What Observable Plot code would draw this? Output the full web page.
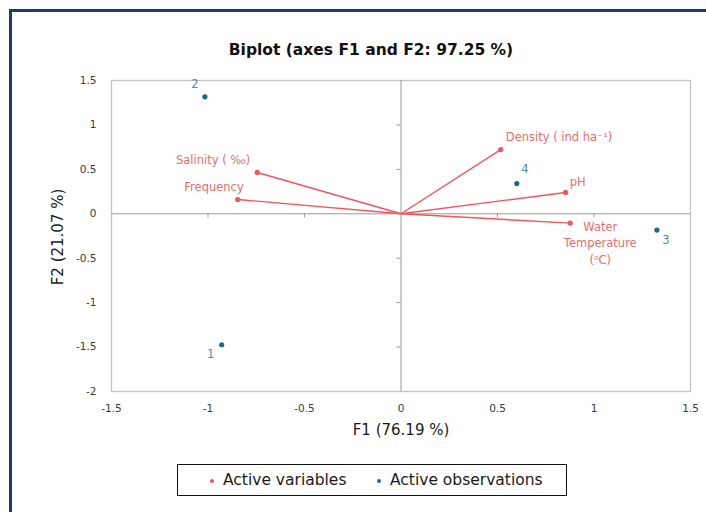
<!DOCTYPE html>
<html><head><meta charset="utf-8">
<script src="https://cdn.jsdelivr.net/npm/d3@7"></script>
<script src="https://cdn.jsdelivr.net/npm/@observablehq/plot@0.6"></script>
<style>
body{margin:0;background:#fff;}
#chart{position:relative;width:706px;height:512px;overflow:hidden;background:#fff;}
#outer{position:absolute;left:9px;top:9px;width:800px;height:600px;border-left:3px solid #22396a;border-top:3px solid #22396a;}
#legend{position:absolute;left:177px;top:464px;width:390px;height:32px;border:1px solid #111;box-sizing:border-box;font-family:"DejaVu Sans";font-size:15.5px;color:#1a1a1a;}
#legend .dot{position:absolute;width:4px;height:4px;border-radius:50%;top:14px;}
#legend .lab{position:absolute;top:6px;line-height:18px;white-space:nowrap;}
#ylab{position:absolute;left:58px;top:237px;transform:translate(-50%,-50%) rotate(-90deg);font-family:"DejaVu Sans";font-size:15px;color:#1a1a1a;white-space:nowrap;line-height:18px;}
</style>
</head><body><div id="chart"><div id="outer"></div></div>
<script>
// ---- data ----
const varNames = ["Salinity ( ‰)", "Frequency", "Density ( ind ha⁻¹)", "pH", "Water\nTemperature\n(⁰C)"];
const varF1 = [-0.745, -0.846, 0.517, 0.853, 0.877];
const varF2 = [0.465, 0.161, 0.723, 0.240, -0.105];
const obsNames = ["1", "2", "3", "4"];
const obsF1 = [-0.929, -1.016, 1.326, 0.600];
const obsF2 = [-1.474, 1.316, -0.183, 0.340];
const xTicks = [-1.5, -1, -0.5, 0, 0.5, 1, 1.5];
const yTicks = [-2, -1.5, -1, -0.5, 0, 0.5, 1, 1.5];
const legendLabels = ["Active variables", "Active observations"];
const titleText = "Biplot (axes F1 and F2: 97.25 %)";
const xLabel = "F1 (76.19 %)";
const yLabel = "F2 (21.07 %)";

// ---- styling / label placement ----
const RED = "#f4545a", RED_TXT = "#f06a6a", BLUE = "#1f6788", BLUE_TXT = "#4a8bb5";
const varLabelPos = [
  {anchor: "end", dx: -7, dy: -14},
  {anchor: "end", dx: 6, dy: -14},
  {anchor: "start", dx: 5, dy: -14},
  {anchor: "start", dx: 4, dy: -12},
  {anchor: "middle", dx: 30, dy: 19}
];
const obsLabelPos = [
  {dx: -11, dy: 10}, {dx: -10, dy: -13}, {dx: 9, dy: 10}, {dx: 8, dy: -14}
];

const vars = varNames.map((name, i) => ({name, f1: varF1[i], f2: varF2[i]}));
const obs = obsNames.map((name, i) => ({name, f1: obsF1[i], f2: obsF2[i]}));

const chart = Plot.plot({
  width: 706, height: 512,
  marginLeft: 111, marginRight: 16, marginTop: 80, marginBottom: 121,
  x: {domain: [-1.5, 1.5]},
  y: {domain: [-2, 1.5]},
  style: {fontFamily: "DejaVu Sans", fontSize: "11px", background: "transparent", overflow: "visible"},
  marks: [
    Plot.frame({stroke: "#c4c4c4", strokeWidth: 1.3}),
    Plot.ruleX([0], {stroke: "#9a9a9a"}),
    Plot.ruleY([0], {stroke: "#9a9a9a"}),
    Plot.ruleY(yTicks.filter(d => d !== 0 && d > -2 && d < 1.5), {y: d => d, x1: -0.022, x2: 0, stroke: "#9a9a9a"}),
    Plot.ruleX(xTicks.filter(d => d !== 0 && Math.abs(d) < 1.5), {x: d => d, y1: 0, y2: -0.045, stroke: "#9a9a9a"}),
    Plot.axisX({ticks: xTicks, tickSize: 0, tickPadding: 13, tickFormat: d => String(d), label: null, fontSize: 10.5, fill: "#3a3a3a"}),
    Plot.axisY({ticks: yTicks, tickSize: 0, tickPadding: 15, tickFormat: d => String(d), label: null, fontSize: 10.5, fill: "#3a3a3a"}),
    Plot.link(vars, {x1: () => 0, y1: () => 0, x2: "f1", y2: "f2", stroke: RED, strokeWidth: 1.4}),
    Plot.dot(vars, {x: "f1", y: "f2", r: 2.6, fill: RED}),
    Plot.dot(obs, {x: "f1", y: "f2", r: 2.6, fill: BLUE}),
    ...vars.map((d, i) => Plot.text([d], {x: "f1", y: "f2", text: "name", textAnchor: varLabelPos[i].anchor,
      dx: varLabelPos[i].dx, dy: varLabelPos[i].dy, fill: RED_TXT, fontSize: 11.5, lineHeight: 1.43})),
    ...obs.map((d, i) => Plot.text([d], {x: "f1", y: "f2", text: "name",
      dx: obsLabelPos[i].dx, dy: obsLabelPos[i].dy, fill: BLUE_TXT, fontSize: 11.5})),
    Plot.text([titleText], {frameAnchor: "top", dx: -30, dy: -37, fontSize: 15.5, fontWeight: "bold", fill: "#111"}),
    Plot.text([xLabel], {frameAnchor: "bottom", dy: 43, fontSize: 15, fill: "#1a1a1a"})
  ]
});
chart.style.position = "absolute";
chart.style.left = "0px";
chart.style.top = "0px";
const root = document.getElementById("chart");
root.appendChild(chart);

const ylab = document.createElement("div");
ylab.id = "ylab";
ylab.textContent = yLabel;
root.appendChild(ylab);

const legend = document.createElement("div");
legend.id = "legend";
const colors = [RED, BLUE];
const dotX = [32, 199];
const labX = [45, 212];
legendLabels.forEach((t, i) => {
  const dot = document.createElement("div");
  dot.className = "dot";
  dot.style.left = dotX[i] + "px";
  dot.style.background = colors[i];
  legend.appendChild(dot);
  const lab = document.createElement("div");
  lab.className = "lab";
  lab.style.left = labX[i] + "px";
  lab.textContent = t;
  legend.appendChild(lab);
});
root.appendChild(legend);
</script>
</body></html>
